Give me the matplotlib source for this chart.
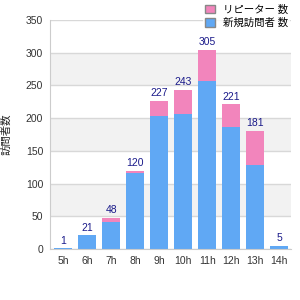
import matplotlib
matplotlib.use("Agg")
import matplotlib.pyplot as plt
from matplotlib.patches import Rectangle

# hourly counts
hours = ["5h", "6h", "7h", "8h", "9h", "10h", "11h", "12h", "13h", "14h"]
new_vals = [1, 21, 42, 116, 203, 207, 257, 186, 128, 5]
repeat_vals = [0, 0, 6, 4, 24, 36, 48, 35, 53, 0]
totals = [a + b for a, b in zip(new_vals, repeat_vals)]

blue = "#60a8f4"
pink = "#f285bc"

plt.rcParams['font.family'] = ['Liberation Sans', 'Noto Sans CJK JP', 'DejaVu Sans']

fig = plt.figure(figsize=(3, 3), dpi=100)
ax = fig.add_axes([0.167, 0.17, 0.803, 0.763])

# alternating grey bands
for lo in (50, 150, 250):
    ax.axhspan(lo, lo + 50, color="#f2f2f2", zorder=0, lw=0)

x = list(range(len(hours)))
ax.bar(x, new_vals, width=0.75, color=blue, zorder=2)
ax.bar(x, repeat_vals, width=0.75, bottom=new_vals, color=pink, zorder=2)

for i, t in enumerate(totals):
    ax.text(i, t + 4, str(t), ha="center", va="bottom", fontsize=7.5, color="#1a1a8a", zorder=3)

ax.set_ylim(0, 350)
ax.set_xlim(-0.55, 9.5)
ax.set_yticks(range(0, 351, 50))
ax.set_xticks(x)
ax.set_xticklabels(hours)
ax.yaxis.grid(True, color="#d8d8d8", lw=1, zorder=1)
ax.set_axisbelow(True)
ax.tick_params(length=0, labelsize=7.5, colors="#333333", pad=5)
for s in ("top", "right"):
    ax.spines[s].set_visible(False)
for s in ("left", "bottom"):
    ax.spines[s].set_color("#cccccc")

ax.set_ylabel("訪問者数", fontsize=7.5, color="#222222", labelpad=10)

h = [Rectangle((0, 0), 1, 1, facecolor=pink, edgecolor="#888888"),
     Rectangle((0, 0), 1, 1, facecolor=blue, edgecolor="#888888")]
leg = fig.legend(h, ["リピーター 数", "新規訪問者 数"], loc="upper right",
                 bbox_to_anchor=(0.985, 1.01), fontsize=7.5, frameon=True,
                 handlelength=0.9, handleheight=0.9, handletextpad=0.8,
                 labelspacing=0.35, borderpad=0.2, fancybox=False)
leg.get_frame().set_edgecolor("none")
leg.get_frame().set_facecolor("white")
leg.set_zorder(5)

fig.savefig("out.png", dpi=100)
